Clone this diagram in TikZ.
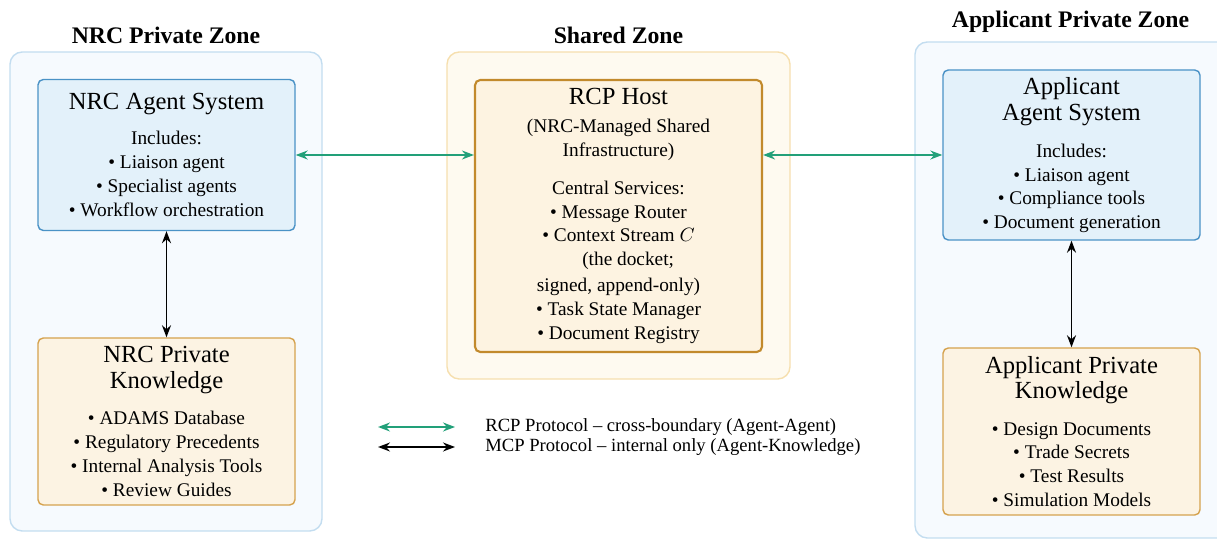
\documentclass[tikz,border=0pt]{standalone}
\usepackage{fontspec}
\setmainfont{Liberation Serif}
\usetikzlibrary{arrows.meta,positioning}
\definecolor{zonebluefill}{HTML}{F6FAFE}
\definecolor{zoneblueline}{HTML}{C3DDF0}
\definecolor{agentfill}{HTML}{E3F1FA}
\definecolor{agentline}{HTML}{4A92C6}
\definecolor{knowfill}{HTML}{FCF3E3}
\definecolor{knowline}{HTML}{D5A24E}
\definecolor{sharedfill}{HTML}{FEFAF0}
\definecolor{sharedline}{HTML}{F6DFAE}
\definecolor{hostfill}{HTML}{FDF3E1}
\definecolor{hostline}{HTML}{C28A2C}
\definecolor{rcpgreen}{HTML}{22A079}
\newcommand{\boxtitle}[1]{{\fontsize{14}{16}\selectfont #1}}

\begin{document}
\begin{tikzpicture}[
    font=\fontsize{11}{13.6}\selectfont,
    >={Stealth[length=2.4mm,width=1.8mm]},
    zonetitle/.style={font=\fontsize{13.5}{16}\selectfont\bfseries},
    agentbox/.style={draw=agentline,fill=agentfill,line width=0.8pt,rounded corners=3pt,
        align=center,minimum width=5.14cm,inner sep=2pt},
    knowbox/.style={draw=knowline,fill=knowfill,line width=0.8pt,rounded corners=3pt,
        align=center,minimum width=5.14cm,inner sep=2pt},
    rcp/.style={<->,rcpgreen,line width=0.9pt},
    mcp/.style={<->,black,line width=0.9pt}
]
    \useasboundingbox (0,0) rectangle (24.34,-10.78);
    % zones
    \draw[draw=zoneblueline,fill=zonebluefill,line width=0.8pt,rounded corners=7pt] (0.2,-1.04) rectangle (6.44,-10.62);
    \draw[draw=sharedline,fill=sharedfill,line width=0.8pt,rounded corners=7pt] (8.94,-1.04) rectangle (15.8,-7.58);
    \draw[draw=zoneblueline,fill=zonebluefill,line width=0.8pt,rounded corners=7pt] (18.3,-0.84) rectangle (25.0,-10.76);
    \node[zonetitle] (nrczone) at (3.32,-0.70) {NRC Private Zone};
    \node[zonetitle] (sharedzone) at (12.37,-0.70) {Shared Zone};
    \node[zonetitle] (appzone) at (21.41,-0.44) {Applicant Private Zone};

    % NRC side
    \node[agentbox,minimum height=3.02cm] (nrcagent) at (3.33,-3.1)
        {\boxtitle{NRC Agent System}\\[6pt]Includes:\\\textbullet{} Liaison agent\\
         \textbullet{} Specialist agents\\\textbullet{} Workflow orchestration};
    \node[knowbox,minimum height=3.34cm] (nrcknow) at (3.33,-8.43)
        {\boxtitle{NRC Private}\\[1pt]\boxtitle{Knowledge}\\[7pt]\textbullet{} ADAMS Database\\
         \textbullet{} Regulatory Precedents\\\textbullet{} Internal Analysis Tools\\\textbullet{} Review Guides};

    % shared host
    \node[draw=hostline,fill=hostfill,line width=1.2pt,rounded corners=3pt,align=center,
        minimum width=5.74cm,minimum height=5.44cm] (rcphost) at (12.37,-4.32)
        {\boxtitle{RCP Host}\\[2pt](NRC-Managed Shared\\Infrastructure)\\[8pt]Central Services:\\
         \textbullet{} Message Router\\\textbullet{} Context Stream $C$\\\hspace*{1em}(the docket;\\[1pt]
         signed, append-only)\\\textbullet{} Task State Manager\\\textbullet{} Document Registry};

    % applicant side
    \node[agentbox,minimum height=3.4cm] (appagent) at (21.43,-3.1)
        {\boxtitle{Applicant}\\[1.7pt]\boxtitle{Agent System}\\[7pt]Includes:\\\textbullet{} Liaison agent\\
         \textbullet{} Compliance tools\\\textbullet{} Document generation};
    \node[knowbox,minimum height=3.34cm] (appknow) at (21.43,-8.63)
        {\boxtitle{Applicant Private}\\[1pt]\boxtitle{Knowledge}\\[7pt]\textbullet{} Design Documents\\
         \textbullet{} Trade Secrets\\\textbullet{} Test Results\\\textbullet{} Simulation Models};

    % protocol links
    \draw[rcp] (nrcagent.east) -- (nrcagent.east -| rcphost.west);
    \draw[rcp] (appagent.west -| rcphost.east) -- (appagent.west);
    \draw[mcp] (nrcagent.south) -- (nrcknow.north);
    \draw[mcp] (appagent.south) -- (appknow.north);

    % legend
    \coordinate (rcpa) at (7.56,-8.54);\coordinate (rcpb) at (9.1,-8.54);
    \coordinate (mcpa) at (7.56,-8.94);\coordinate (mcpb) at (9.1,-8.94);
    \draw[rcp] (rcpa) -- (rcpb);\draw[mcp] (mcpa) -- (mcpb);
    \node[anchor=west,inner sep=0pt,font=\fontsize{10.6}{12.8}\selectfont] (rcplabel) at (9.7,-8.54) {RCP Protocol -- cross-boundary (Agent-Agent)};
    \node[anchor=west,inner sep=0pt,font=\fontsize{10.6}{12.8}\selectfont] (mcplabel) at (9.7,-8.94) {MCP Protocol -- internal only (Agent-Knowledge)};
\end{tikzpicture}
\end{document}
